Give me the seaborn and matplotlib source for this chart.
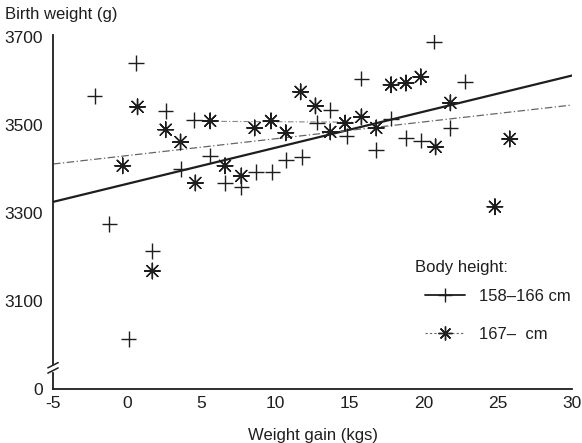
import numpy as np
import pandas as pd
import matplotlib
matplotlib.use("Agg")
import matplotlib.pyplot as plt
from matplotlib.lines import Line2D
import seaborn as sns

# ---- data ----
short_gain = [-2.2, 0.6, 2.6, 4.5, 3.6, 5.6, 6.6, 7.7, 8.7, 9.8, 10.7, 11.8, 12.8,
              13.7, 14.8, 15.8, 16.8, 17.8, 18.8, 19.8, 20.7, 21.8, 22.8, -1.2, 1.7, 0.1]
short_bw = [3565, 3640, 3532, 3511, 3400, 3430, 3368, 3359, 3393, 3393, 3420, 3427, 3505,
            3534, 3475, 3605, 3443, 3514, 3470, 3464, 3689, 3493, 3598, 3275, 3214, 3014]

tall_gain = [0.7, 2.6, 3.6, -0.3, 4.6, 5.6, 6.6, 7.7, 8.6, 9.7, 10.7, 11.7, 12.7, 13.7,
             14.7, 15.8, 16.8, 17.8, 18.8, 19.8, 20.8, 21.8, 25.8, 24.8, 1.7]
tall_bw = [3541, 3489, 3461, 3407, 3368, 3509, 3407, 3384, 3493, 3509, 3482, 3575, 3543, 3484,
           3504, 3518, 3493, 3591, 3595, 3609, 3450, 3550, 3468, 3314, 3168]

groups = ["158–166 cm", "167–  cm"]
legend_title = "Body height:"
line_x = [-5, 30]
short_line_y = [3325, 3612]
tall_line_y = [3411, 3545]
side_x = [5.6, 15.5]
side_y = [3508, 3506]

x_ticks = [-5, 0, 5, 10, 15, 20, 25, 30]
y_ticks = [2900, 3100, 3300, 3500, 3700]
y_tick_labels = ["0", "3100", "3300", "3500", "3700"]

df = pd.DataFrame({
    "gain": short_gain + tall_gain,
    "bw": short_bw + tall_bw,
    "group": [groups[0]] * len(short_gain) + [groups[1]] * len(tall_gain),
})

sns.set_theme(style="white")
plt.rcParams["font.family"] = ["Liberation Sans", "DejaVu Sans"]
ink = "#1e1e1e"

fig = plt.figure(figsize=(5.82, 4.43), dpi=100)
ax = fig.add_axes([0.0911, 0.1219, 0.8917, 0.80])

star = (8, 2, 0)
sns.scatterplot(data=df, x="gain", y="bw", style="group",
                markers={groups[0]: "+", groups[1]: star},
                color=ink, s=125, linewidth=1.0, legend=False, ax=ax, zorder=3)

ax.plot(line_x, short_line_y, color=ink, lw=1.6, zorder=2)
ax.plot(line_x, tall_line_y, color="#666666", lw=0.9, linestyle=(0, (6, 2, 1, 2)), zorder=2)
ax.plot(side_x, side_y, color="#888888", lw=0.8, linestyle=(0, (5, 2, 1, 2)), zorder=2)

ax.set_xlim(-5, 30)
ax.set_ylim(2900, 3705)
ax.set_xticks(x_ticks)
ax.set_xticklabels([str(v) for v in x_ticks])
ax.set_yticks(y_ticks)
ax.set_yticklabels(y_tick_labels)
ax.tick_params(direction="in", length=5, width=1.0, colors=ink, labelsize=12.5)
ax.tick_params(axis="y", pad=7)
ax.tick_params(axis="x", pad=5)
for lab in ax.get_xticklabels() + ax.get_yticklabels():
    lab.set_color(ink)

for side in ["top", "right"]:
    ax.spines[side].set_visible(False)
for side in ["left", "bottom"]:
    ax.spines[side].set_color(ink)
    ax.spines[side].set_linewidth(1.3)

# axis break marks on the y axis
for yb in [2942, 2954]:
    ax.plot([-5.35, -4.65], [yb - 6, yb + 6], color=ink, lw=1.1, clip_on=False, zorder=4)
ax.plot([-5, -5], [2943, 2953], color="white", lw=2.5, clip_on=False, zorder=3.5)

ax.set_xlabel("Weight gain (kgs)", fontsize=12, color=ink, labelpad=12)
ax.set_ylabel("")
fig.text(0.008, 0.967, "Birth weight (g)", fontsize=12, color=ink, ha="left", va="center")

handles = [
    Line2D([], [], color=ink, lw=1.3, marker="+", markersize=10, markeredgewidth=1.0),
    Line2D([], [], color="#666666", lw=0.8, linestyle=(0, (2, 2)), marker=star,
           markersize=10, markeredgewidth=1.0, markeredgecolor=ink),
]
ax.text(0.6975, 0.344, legend_title, transform=ax.transAxes, fontsize=12, color=ink,
        ha="left", va="center")
leg = ax.legend(handles, groups, loc="upper left",
                bbox_to_anchor=(0.7168, 0.283), frameon=False, fontsize=12,
                borderpad=0, borderaxespad=0, handlelength=2.4, labelspacing=1.38,
                handletextpad=0.85)
for t in leg.get_texts():
    t.set_color(ink)

fig.savefig("out.png", dpi=100, facecolor="white")
